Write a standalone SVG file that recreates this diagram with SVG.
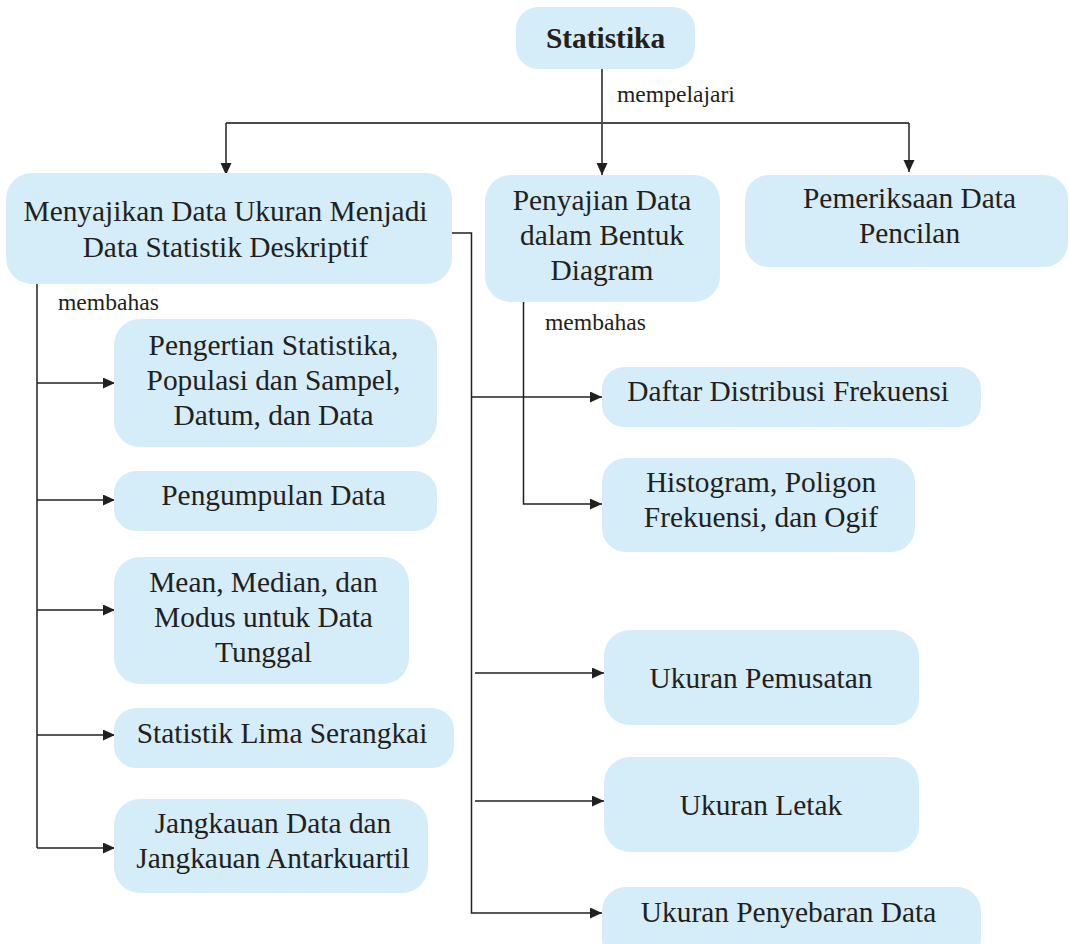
<svg xmlns="http://www.w3.org/2000/svg" width="1069" height="944" viewBox="0 0 1069 944">
<defs>
<style>
.box{fill:#d5ecf9;}
.t{font-family:"Liberation Serif","Times New Roman",serif;font-size:29.4px;fill:#231f20;text-anchor:middle;}
.tb{font-weight:bold;}
.lbl{font-family:"Liberation Serif","Times New Roman",serif;font-size:23.6px;fill:#231f20;}
.c{fill:none;stroke:#231f20;stroke-width:1.5;}
.ca{fill:none;stroke:#231f20;stroke-width:1.5;marker-end:url(#ah);}
</style>
<marker id="ah" markerUnits="userSpaceOnUse" markerWidth="13" markerHeight="12" refX="12" refY="5.5" orient="auto">
<path d="M0,0 L12,5.5 L0,11 Z" fill="#231f20"/>
</marker>
</defs>
<rect width="1069" height="944" fill="#ffffff"/>

<g id="connectors">
<path class="ca" d="M602,69 V175"/>
<path class="c" d="M226,123 H909" style="stroke:#4a4a4a;stroke-width:2"/>
<path class="ca" d="M226,123 V175"/>
<path class="ca" d="M909,123 V172"/>
<path class="c" d="M37,284 V848"/>
<path class="ca" d="M37,383 H115"/>
<path class="ca" d="M37,500 H115"/>
<path class="ca" d="M37,610 H115"/>
<path class="ca" d="M37,735 H115"/>
<path class="ca" d="M37,848 H115"/>
<path class="ca" d="M452,233 H471.5 V913 H602"/>
<path class="ca" d="M471.5,397 H602"/>
<path class="ca" d="M475,673 H604"/>
<path class="ca" d="M475,801 H604"/>
<path class="ca" d="M523.5,302 V504 H602"/>
<text class="lbl" x="617" y="102">mempelajari</text>
<text class="lbl" x="58" y="310">membahas</text>
<text class="lbl" x="545" y="330">membahas</text>
</g>

<g id="statistika">
<rect class="box" x="516" y="7" width="179" height="62" rx="22"/>
<text class="t tb" x="605.5" y="48">Statistika</text>
</g>

<g id="menyajikan">
<rect class="box" x="6" y="173" width="446" height="111" rx="26"/>
<text class="t" x="225.5" y="221">Menyajikan Data Ukuran Menjadi</text>
<text class="t" x="225.5" y="257">Data Statistik Deskriptif</text>
</g>

<g id="penyajian">
<rect class="box" x="485" y="175" width="235" height="127" rx="26"/>
<text class="t" x="602" y="210">Penyajian Data</text>
<text class="t" x="602" y="245">dalam Bentuk</text>
<text class="t" x="602" y="280">Diagram</text>
</g>

<g id="pemeriksaan">
<rect class="box" x="745" y="175" width="323" height="92" rx="24"/>
<text class="t" x="909.5" y="208">Pemeriksaan Data</text>
<text class="t" x="909.5" y="243">Pencilan</text>
</g>

<g id="pengertian">
<rect class="box" x="114" y="319" width="323" height="128" rx="26"/>
<text class="t" x="273.5" y="355">Pengertian Statistika,</text>
<text class="t" x="273.5" y="390">Populasi dan Sampel,</text>
<text class="t" x="273.5" y="425">Datum, dan Data</text>
</g>

<g id="pengumpulan">
<rect class="box" x="114" y="471" width="323" height="60" rx="22"/>
<text class="t" x="273.5" y="505">Pengumpulan Data</text>
</g>

<g id="mean">
<rect class="box" x="114" y="557" width="295" height="127" rx="26"/>
<text class="t" x="263.5" y="592">Mean, Median, dan</text>
<text class="t" x="263.5" y="627">Modus untuk Data</text>
<text class="t" x="263.5" y="662">Tunggal</text>
</g>

<g id="limaserangkai">
<rect class="box" x="114" y="708" width="340" height="60" rx="22"/>
<text class="t" x="282" y="743">Statistik Lima Serangkai</text>
</g>

<g id="jangkauan">
<rect class="box" x="114" y="799" width="314" height="94" rx="26"/>
<text class="t" x="273" y="833">Jangkauan Data dan</text>
<text class="t" x="273" y="868">Jangkauan Antarkuartil</text>
</g>

<g id="daftar">
<rect class="box" x="602" y="367" width="379" height="60" rx="22"/>
<text class="t" x="788" y="401">Daftar Distribusi Frekuensi</text>
</g>

<g id="histogram">
<rect class="box" x="602" y="458" width="313" height="94" rx="24"/>
<text class="t" x="761" y="492">Histogram, Poligon</text>
<text class="t" x="761" y="527">Frekuensi, dan Ogif</text>
</g>

<g id="pemusatan">
<rect class="box" x="604" y="630" width="315" height="95" rx="26"/>
<text class="t" x="761" y="688">Ukuran Pemusatan</text>
</g>

<g id="letak">
<rect class="box" x="604" y="757" width="315" height="95" rx="26"/>
<text class="t" x="761" y="815">Ukuran Letak</text>
</g>

<g id="penyebaran">
<rect class="box" x="602" y="887" width="379" height="75" rx="24"/>
<text class="t" x="788.5" y="922">Ukuran Penyebaran Data</text>
</g>
</svg>
